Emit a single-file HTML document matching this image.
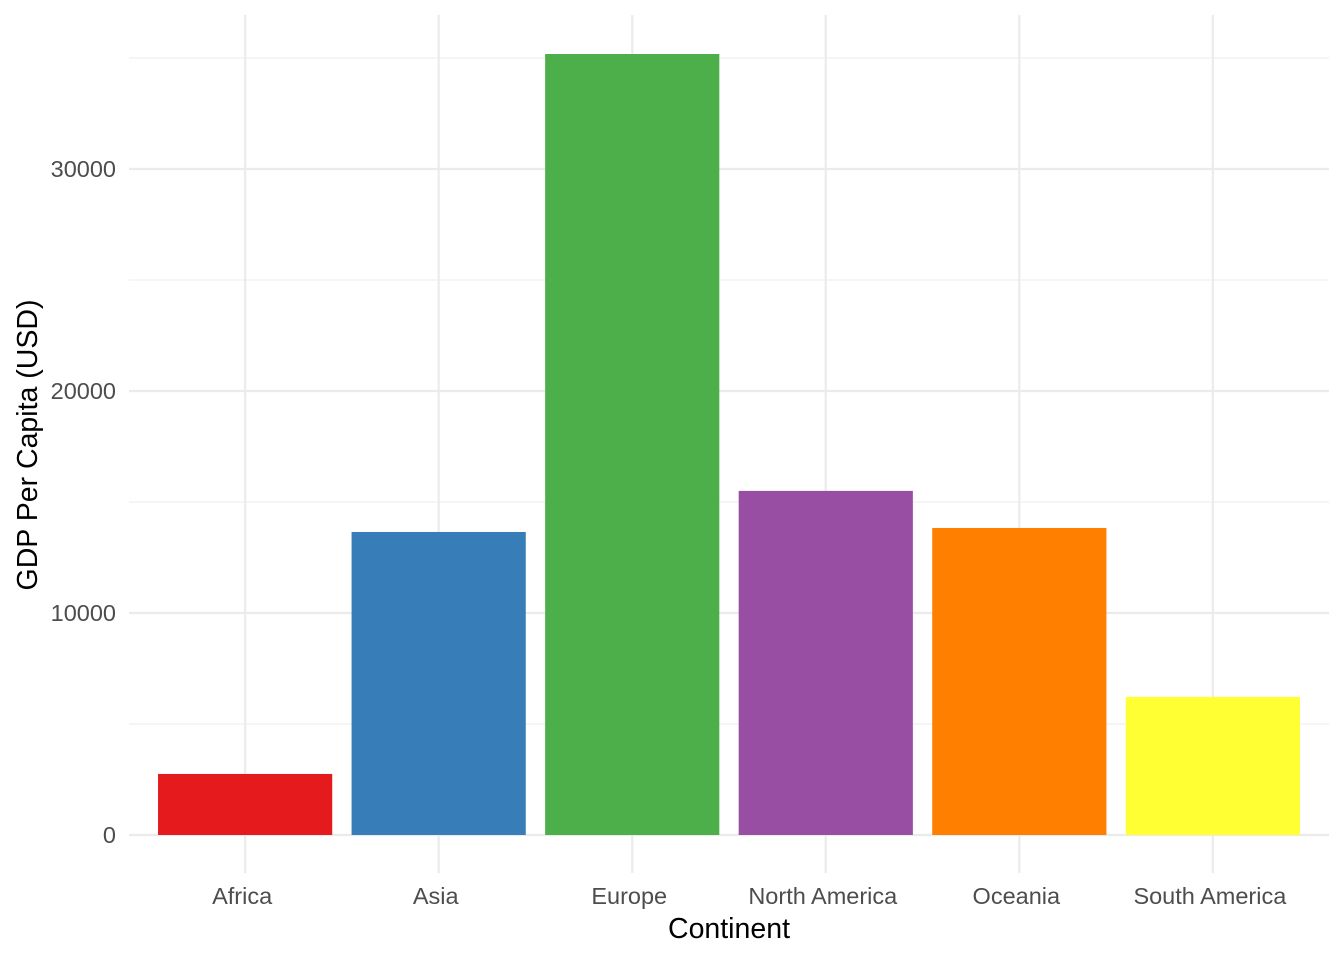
<!DOCTYPE html>
<html><head><meta charset="utf-8"><style>
body{margin:0;background:#fff;}
svg{display:block;font-family:"Liberation Sans",Arial,sans-serif;}
</style></head><body>
<svg id="chart" width="1344" height="960"></svg>
<script>
const categories=["Africa","Asia","Europe","North America","Oceania","South America"];
const gdpValues=[2750,13650,35180,15500,13830,6220];
const barColors=["#E41A1C","#377EB8","#4DAF4A","#984EA3","#FF7F00","#FFFF33"];
const yTicks=[0,10000,20000,30000];
const yMinor=[5000,15000,25000,35000];

const NS="http://www.w3.org/2000/svg";
const svg=document.getElementById('chart');
const panel={l:129,r:1329,t:15,b:873};
const y0=835, pxPer=222/10000;
const yScale=v=>y0-v*pxPer;
const step=(panel.r-panel.l)/(categories.length-1+1.2);
const xScale=i=>panel.l+0.6*step+i*step;
const barW=step*0.9;
function mk(tag,attrs,parent){const e=document.createElementNS(NS,tag);for(const k in attrs)e.setAttribute(k,attrs[k]);(parent||svg).appendChild(e);return e;}

yMinor.forEach(v=>{
  const l=mk('line',{x1:panel.l,x2:panel.r,y1:yScale(v),y2:yScale(v),stroke:'#ebebeb','stroke-width':1.1});
  
  
});
yTicks.forEach(v=>{
  const l=mk('line',{x1:panel.l,x2:panel.r,y1:yScale(v),y2:yScale(v),stroke:'#ebebeb','stroke-width':2.2});
  
  
  const t=mk('text',{x:116,y:yScale(v)+8,'text-anchor':'end','font-size':23.5,fill:'#4d4d4d'});
  t.textContent=v;
  
  
});
categories.forEach((c,i)=>{
  const l=mk('line',{x1:xScale(i),x2:xScale(i),y1:panel.t,y2:panel.b,stroke:'#ebebeb','stroke-width':2.2});
  
  
});
categories.forEach((c,i)=>{
  const r=mk('rect',{x:xScale(i)-barW/2,y:yScale(gdpValues[i]),width:barW,height:y0-yScale(gdpValues[i]),fill:barColors[i]});
  
  
  const t=mk('text',{x:xScale(i)-3,y:904,'text-anchor':'middle','font-size':23.5,fill:'#4d4d4d'});
  t.textContent=c;
  
  
});
const xt=mk('text',{x:729,y:938,'text-anchor':'middle','font-size':28.5,fill:'#000'});
xt.textContent='Continent';


const yt=mk('text',{x:0,y:0,'text-anchor':'middle','font-size':28.5,fill:'#000',transform:'translate(37,445) rotate(-90)'});
yt.textContent='GDP Per Capita (USD)';


</script>
</body></html>
